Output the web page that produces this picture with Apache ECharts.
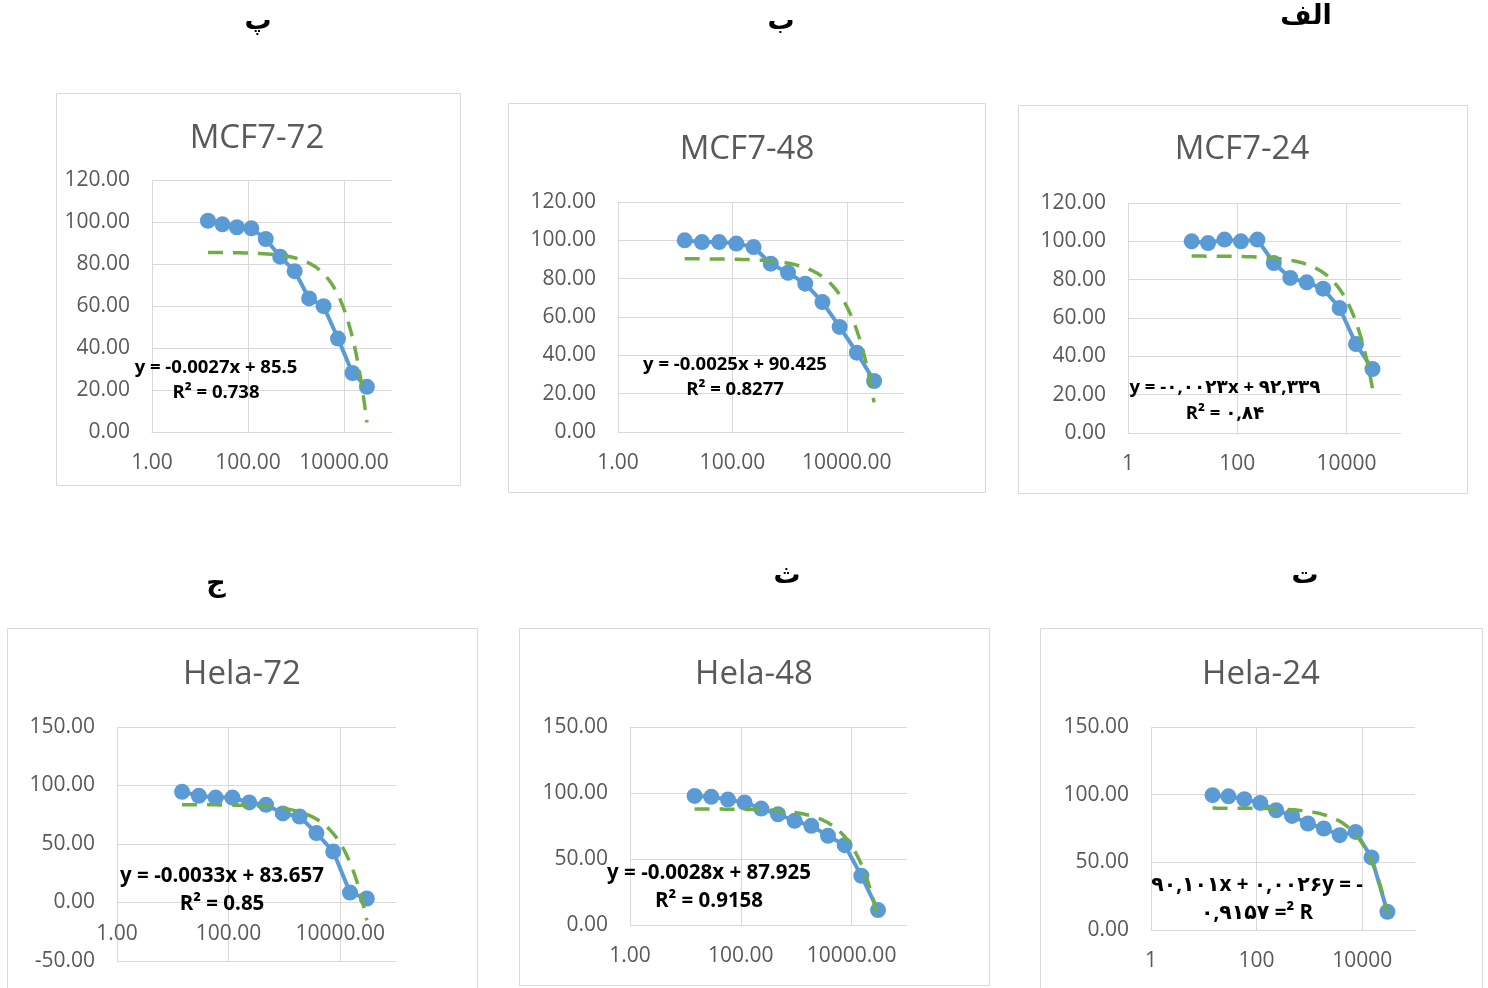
<!DOCTYPE html>
<html><head><meta charset="utf-8">
<script src="https://cdn.jsdelivr.net/npm/echarts@6/dist/echarts.min.js"></script>
<style>html,body{margin:0;padding:0;background:#fff}#c{width:1488px;height:988px}</style>
</head><body><div id="c"></div>
<script>
// ---- data ----
const conc = [14.65, 29.3, 58.6, 117.2, 234.4, 468.75, 937.5, 1875, 3750, 7500, 15000, 30000];
const panelTitles = ['MCF7-72', 'MCF7-48', 'MCF7-24', 'Hela-72', 'Hela-48', 'Hela-24'];
const mcf72 = [100.6, 98.9, 97.5, 97.0, 91.9, 83.5, 76.6, 63.6, 59.9, 44.5, 28.1, 21.5];
const mcf48 = [100.0, 99.1, 99.1, 98.3, 96.5, 87.8, 83.1, 77.4, 67.8, 54.8, 41.4, 26.6];
const mcf24 = [100.0, 99.1, 100.9, 100.0, 100.9, 88.7, 80.9, 78.6, 75.3, 65.2, 46.4, 33.4];
const hela72 = [94.6, 91.2, 89.7, 89.7, 85.5, 83.5, 76.1, 73.5, 59.3, 43.6, 8.5, 3.4];
const hela48 = [97.8, 97.1, 95.0, 92.8, 88.2, 83.9, 78.9, 75.1, 67.6, 60.5, 37.3, 11.3];
const hela24 = [99.6, 98.8, 96.6, 93.9, 88.5, 84.3, 78.7, 75.0, 70.1, 72.5, 53.6, 13.5];
const trendSlope = [-0.0027, -0.0025, -0.0023, -0.0033, -0.0028, -0.0026];
const trendIntercept = [85.5, 90.425, 92.339, 83.657, 87.925, 90.101];
const eqLine1 = ['y = -0.0027x + 85.5', 'y = -0.0025x + 90.425', 'y = -\u06F0,\u06F0\u06F0\u06F2\u06F3x + \u06F9\u06F2,\u06F3\u06F3\u06F9',
                 'y = -0.0033x + 83.657', 'y = -0.0028x + 87.925', '\u06F9\u06F0,\u06F1\u06F0\u06F1x + \u06F0,\u06F0\u06F0\u06F2\u06F6y = -'];
const eqLine2 = ['R\u00B2 = 0.738', 'R\u00B2 = 0.8277', 'R\u00B2 = \u06F0,\u06F8\u06F4',
                 'R\u00B2 = 0.85', 'R\u00B2 = 0.9158', '\u06F0,\u06F9\u06F1\u06F5\u06F7 =\u00B2 R'];
const yMin = [0, 0, 0, -50, 0, 0];
const yMax = [120, 120, 120, 150, 150, 150];
const yStep = [20, 20, 20, 50, 50, 50];
const xTickDecimals = [2, 2, 0, 2, 2, 0];
const panelLetters = ['\u067E', '\u0628', '\u0627\u0644\u0641', '\u062C', '\u062B', '\u062A'];

const seriesY = [mcf72, mcf48, mcf24, hela72, hela48, hela24];

// ---- layout ----
const grids = [
  {left: 152, top: 180, width: 240, height: 252},
  {left: 618, top: 202, width: 286, height: 230},
  {left: 1128, top: 203, width: 273, height: 230},
  {left: 117, top: 727, width: 279, height: 234},
  {left: 630, top: 727, width: 277, height: 198},
  {left: 1151, top: 727, width: 264, height: 203}
];
const xAxisShift = [0, 0, 0, -58.5, 0, 0];   // x axis drawn at y = 0 in the Hela-72 panel
const boxes = [
  [56, 93, 404, 392], [508, 103, 477, 389], [1018, 105, 449, 388],
  [7, 628, 470, 380], [519, 628, 470, 357], [1040, 628, 442, 380]
];
const titlePos = [[257, 139], [747, 150], [1242, 150], [242, 675], [754, 675], [1261, 675]];
const eqPos = [[216, 368, 393, 18.5], [735, 365, 390, 18.5], [1225, 388, 414, 18.5],
               [222, 876, 904, 20.5], [709, 873, 901, 20.5], [1257, 885, 913, 20.5]];
const letterPos = [[258, 22], [781, 22], [1306, 17], [216, 584], [787, 576], [1305, 576]];

const FONT = "'Open Sans', 'DejaVu Sans', sans-serif";
const GRID_COLOR = '#d9d9d9';
const TEXT_COLOR = '#595959';

const xAxes = [], yAxes = [], series = [], graphics = [];
grids.forEach((g, i) => {
  xAxes.push({
    type: 'log', logBase: 100, min: 1, max: 100000, gridIndex: i,
    offset: xAxisShift[i],
    axisLine: {show: true, onZero: false, lineStyle: {color: GRID_COLOR, width: 1}},
    axisTick: {show: false},
    splitLine: {show: true, showMaxLine: false, lineStyle: {color: GRID_COLOR, width: 1}},
    axisLabel: {
      showMaxLabel: false, color: TEXT_COLOR, fontSize: 21, fontFamily: FONT, margin: 21,
      formatter: v => Math.round(v).toFixed(xTickDecimals[i])
    }
  });
  yAxes.push({
    type: 'value', gridIndex: i, min: yMin[i], max: yMax[i], interval: yStep[i],
    axisLine: {show: false}, axisTick: {show: false},
    splitLine: {show: true, lineStyle: {color: GRID_COLOR, width: 1}},
    axisLabel: {color: TEXT_COLOR, fontSize: 21, fontFamily: FONT, margin: 22, formatter: v => v.toFixed(2)}
  });
  series.push({
    type: 'line', xAxisIndex: i, yAxisIndex: i,
    data: conc.map((x, j) => [x, seriesY[i][j]]),
    symbol: 'circle', symbolSize: 16,
    itemStyle: {color: '#5b9bd5'},
    lineStyle: {color: '#5b9bd5', width: 4}, z: 3
  });
  // linear trendline from the displayed equation, drawn over the concentration range
  const lo = Math.log10(conc[0]), hi = Math.log10(conc[conc.length - 1]);
  const trend = [];
  const N = 80;
  for (let k = 0; k <= N; k++) {
    const x = Math.pow(10, lo + (hi - lo) * k / N);
    trend.push([x, trendSlope[i] * x + trendIntercept[i]]);
  }
  series.push({
    type: 'line', xAxisIndex: i, yAxisIndex: i, data: trend, showSymbol: false, symbol: 'none',
    lineStyle: {color: '#70ad47', width: 3.5, type: [15, 10], cap: 'butt'}, z: 4, silent: true
  });
  const b = boxes[i];
  graphics.push({type: 'rect', shape: {x: b[0] + 0.5, y: b[1] + 0.5, width: b[2], height: b[3]},
    style: {fill: null, stroke: GRID_COLOR, lineWidth: 1}, z: 0, silent: true});
  graphics.push({type: 'text', x: titlePos[i][0], y: titlePos[i][1],
    style: {text: panelTitles[i], align: 'center', verticalAlign: 'middle', fill: TEXT_COLOR,
      font: "33px " + FONT}, z: 10});
  const e = eqPos[i];
  graphics.push({type: 'text', x: e[0], y: e[1],
    style: {text: eqLine1[i], align: 'center', verticalAlign: 'middle', fill: '#000',
      font: "bold " + e[3] + "px " + FONT}, z: 10});
  graphics.push({type: 'text', x: e[0], y: e[2],
    style: {text: eqLine2[i], align: 'center', verticalAlign: 'middle', fill: '#000',
      font: "bold " + e[3] + "px " + FONT}, z: 10});
  graphics.push({type: 'text', x: letterPos[i][0], y: letterPos[i][1],
    style: {text: panelLetters[i], align: 'center', verticalAlign: 'middle', fill: '#000',
      font: "bold 27px 'DejaVu Sans', sans-serif"}, z: 10});
});

const chart = echarts.init(document.getElementById('c'), null, {renderer: 'canvas'});
chart.setOption({
  animation: false,
  backgroundColor: '#fff',
  grid: grids,
  xAxis: xAxes,
  yAxis: yAxes,
  series: series,
  graphic: graphics
});
</script>
</body></html>
